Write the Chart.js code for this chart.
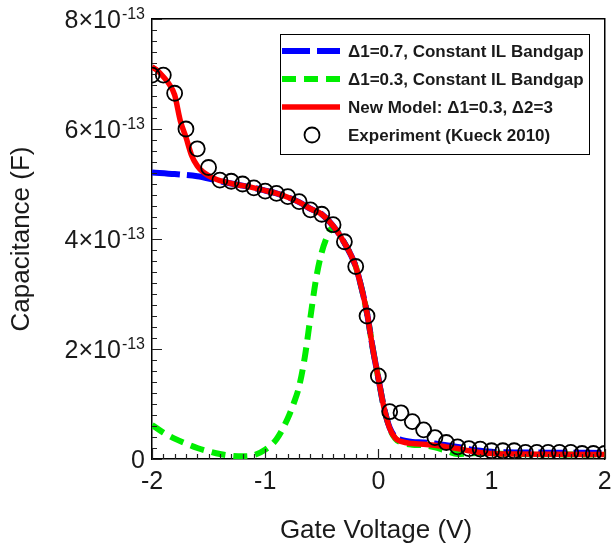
<!DOCTYPE html>
<html><head><meta charset="utf-8">
<script src="https://cdn.jsdelivr.net/npm/chart.js@4.4.0/dist/chart.umd.min.js"></script>
<style>html,body{margin:0;padding:0;background:#fff}canvas{display:block}</style>
</head><body>
<canvas id="c" width="614" height="546"></canvas>
<script>
// ---- data (capacitance in units of 1e-13 F) ----
const UNIT = 1e-13;
const xTicks = [-2, -1, 0, 1, 2];
const yTicks = [0, 2, 4, 6, 8];
const yTickMain = ['0', '2×10', '4×10', '6×10', '8×10'];
const yTickExp = ['', '-13', '-13', '-13', '-13'];
const xTitle = 'Gate Voltage (V)';
const yTitle = 'Capacitance (F)';
const legendLabels = ['Δ1=0.7, Constant IL Bandgap', 'Δ1=0.3, Constant IL Bandgap', 'New Model: Δ1=0.3, Δ2=3', 'Experiment (Kueck 2010)'];

const expV = [-2.0,-1.9,-1.8,-1.7,-1.6,-1.5,-1.4,-1.3,-1.2,-1.1,-1.0,-0.9,-0.8,-0.7,-0.6,-0.5,-0.4,-0.3,-0.2,-0.1,0.0,0.1,0.2,0.3,0.4,0.5,0.6,0.7,0.8,0.9,1.0,1.1,1.2,1.3,1.4,1.5,1.6,1.7,1.8,1.9,2.0];
const expC = [6.98,6.98,6.65,6.00,5.64,5.30,5.07,5.05,5.00,4.93,4.87,4.83,4.77,4.68,4.53,4.45,4.26,3.95,3.50,2.60,1.51,0.86,0.84,0.68,0.53,0.39,0.30,0.22,0.19,0.18,0.15,0.15,0.15,0.12,0.12,0.12,0.12,0.12,0.10,0.10,0.10];

const redV = [-2,-1.95,-1.9,-1.85,-1.8,-1.75,-1.7,-1.65,-1.6,-1.55,-1.5,-1.45,-1.4,-1.3,-1.2,-1.1,-1.0,-0.9,-0.8,-0.7,-0.6,-0.5,-0.4,-0.3,-0.2,-0.15,-0.1,-0.05,0,0.05,0.1,0.15,0.2,0.3,0.4,0.5,0.6,0.7,0.8,0.9,1.0,1.2,1.5,2.0];
const redC = [7.13,7.06,6.95,6.82,6.62,6.15,5.85,5.52,5.33,5.22,5.15,5.10,5.06,5.01,4.97,4.93,4.88,4.83,4.76,4.67,4.55,4.45,4.24,3.93,3.50,3.12,2.65,2.02,1.47,0.93,0.56,0.38,0.32,0.28,0.27,0.25,0.22,0.19,0.15,0.12,0.10,0.09,0.085,0.08];

const blueV = [-2,-1.8,-1.6,-1.5,-1.4,-1.3,-1.2,-1.1,-1.0,-0.9,-0.8,-0.7,-0.6,-0.5,-0.4,-0.3,-0.2,-0.15,-0.1,-0.05,0,0.05,0.1,0.15,0.2,0.3,0.4,0.5,0.6,0.7,0.8,0.9,1.0,1.2,1.5,2.0];
const blueC = [5.21,5.18,5.14,5.10,5.05,5.01,4.97,4.93,4.88,4.83,4.76,4.67,4.55,4.45,4.24,3.93,3.50,3.12,2.65,2.02,1.47,0.93,0.57,0.40,0.35,0.31,0.30,0.28,0.25,0.22,0.18,0.15,0.13,0.12,0.115,0.11];

const greenV = [-2,-1.9,-1.8,-1.7,-1.6,-1.5,-1.4,-1.3,-1.2,-1.1,-1.0,-0.9,-0.8,-0.75,-0.7,-0.65,-0.6,-0.55,-0.5,-0.45,-0.42,-0.4,-0.3,-0.2,-0.15,-0.1,-0.05,0,0.05,0.1,0.15,0.2,0.3,0.4,0.5,0.6,0.7,0.8,0.9,1.0,1.2,1.5,2.0];
const greenC = [0.62,0.48,0.37,0.28,0.20,0.14,0.09,0.06,0.05,0.07,0.17,0.36,0.74,1.00,1.32,1.85,2.58,3.28,3.76,4.06,4.18,4.20,3.93,3.50,3.12,2.65,2.02,1.47,0.93,0.56,0.37,0.30,0.26,0.25,0.21,0.15,0.09,0.10,0.11,0.10,0.09,0.085,0.08];

const pts = (xs, ys) => xs.map((x, i) => ({x: x, y: ys[i] * UNIT}));

const FONT = '"Liberation Sans", Arial, sans-serif';
const TXT = '#1a1a1a';

const deco = {
  id: 'deco',
  afterDraw(chart) {
    const ctx = chart.ctx, xs = chart.scales.x, ys = chart.scales.y, a = chart.chartArea;
    ctx.save();
    // inward tick marks
    ctx.strokeStyle = '#222'; ctx.lineWidth = 1.2;
    ctx.beginPath();
    for (let i = 0; i <= 40; i++) {
      const px = Math.round(xs.getPixelForValue(-2 + i * 0.1)) + 0.5;
      const len = (i % 10 === 0) ? 10 : 5;
      ctx.moveTo(px, a.bottom); ctx.lineTo(px, a.bottom - len);
    }
    for (let i = 0; i <= 40; i++) {
      const py = Math.round(ys.getPixelForValue(i * 0.2 * UNIT)) + 0.5;
      const len = (i % 10 === 0) ? 10 : 5;
      ctx.moveTo(a.left, py); ctx.lineTo(a.left + len, py);
    }
    ctx.stroke();

    // x tick labels
    ctx.fillStyle = TXT;
    ctx.font = '25px ' + FONT;
    ctx.textAlign = 'center'; ctx.textBaseline = 'alphabetic';
    xTicks.forEach(v => ctx.fillText(String(v), xs.getPixelForValue(v), a.bottom + 30));

    // y tick labels with superscript exponent
    const right = 145;
    yTicks.forEach((v, i) => {
      const py = ys.getPixelForValue(v * UNIT);
      ctx.textAlign = 'right';
      let w = 0;
      if (yTickExp[i]) {
        ctx.font = '16px ' + FONT;
        w = ctx.measureText(yTickExp[i]).width;
        ctx.fillText(yTickExp[i], right, py);
      }
      ctx.font = '25px ' + FONT;
      ctx.fillText(yTickMain[i], right - w - (w ? 1 : 0), py + 9);
    });

    // axis titles
    ctx.font = '26px ' + FONT;
    ctx.textAlign = 'center';
    ctx.fillText(xTitle, 376, 538);
    ctx.save();
    ctx.translate(29, (a.top + a.bottom) / 2);
    ctx.rotate(-Math.PI / 2);
    ctx.fillText(yTitle, 0, 0);
    ctx.restore();

    // legend
    const lx = 280.5, ly = 34.5, lw = 309, lh = 120;
    ctx.fillStyle = '#fff';
    ctx.fillRect(lx, ly, lw, lh);
    ctx.strokeStyle = '#000'; ctx.lineWidth = 1;
    ctx.strokeRect(lx, ly, lw, lh);
    const order = [2, 3, 1, 0]; // blue, green, red, experiment (dataset indices)
    order.forEach((di, k) => {
      const ds = chart.data.datasets[di];
      const cy = 51 + k * 28;
      ctx.save();
      if (ds.showLine === false) {
        ctx.beginPath();
        ctx.arc(312, cy, ds.pointRadius, 0, Math.PI * 2);
        ctx.strokeStyle = ds.pointBorderColor; ctx.lineWidth = ds.pointBorderWidth;
        ctx.stroke();
      } else {
        ctx.beginPath();
        ctx.setLineDash(ds.borderDash || []);
        ctx.strokeStyle = ds.borderColor; ctx.lineWidth = ds.borderWidth;
        ctx.moveTo(282, cy); ctx.lineTo(340, cy);
        ctx.stroke();
      }
      ctx.restore();
      ctx.fillStyle = TXT;
      ctx.font = 'bold 17px ' + FONT;
      ctx.textAlign = 'left';
      ctx.fillText(legendLabels[k], 348, cy + 6);
    });
    ctx.restore();
  }
};

const fit0w = s => { s.width = 0; };
const fit0h = s => { s.height = 0; };
const hiddenAxis = (pos, fit) => ({
  type: 'linear', position: pos, display: true,
  ticks: {display: false}, grid: {display: false, drawTicks: false},
  border: {display: true, color: '#000', width: 1.5}, afterFit: fit
});

new Chart(document.getElementById('c'), {
  type: 'line',
  data: {
    datasets: [
      { label: legendLabels[3], data: pts(expV, expC), showLine: false,
        pointRadius: 7.5, pointBorderWidth: 1.8, pointBorderColor: '#000',
        pointBackgroundColor: 'rgba(0,0,0,0)', pointStyle: 'circle', clip: 0 },
      { label: legendLabels[2], data: pts(redV, redC), borderColor: '#ff0000',
        borderWidth: 5.5, pointRadius: 0, tension: 0.4, cubicInterpolationMode: 'monotone', fill: false, clip: 0 },
      { label: legendLabels[0], data: pts(blueV, blueC), borderColor: '#0000ff',
        borderWidth: 6, borderDash: [28, 7], pointRadius: 0, cubicInterpolationMode: 'monotone', fill: false, clip: 0 },
      { label: legendLabels[1], data: pts(greenV, greenC), borderColor: '#00ee00',
        borderWidth: 6, borderDash: [14, 8], pointRadius: 0, cubicInterpolationMode: 'monotone', fill: false, clip: 0 }
    ]
  },
  options: {
    responsive: false, animation: false, devicePixelRatio: 1,
    layout: {padding: {left: 152, top: 19, right: 7, bottom: 87}},
    plugins: {legend: {display: false}, tooltip: {enabled: false}},
    scales: {
      x: Object.assign(hiddenAxis('bottom', fit0h), {min: -2, max: 2}),
      y: Object.assign(hiddenAxis('left', fit0w), {min: 0, max: 8 * UNIT}),
      x2: Object.assign(hiddenAxis('top', fit0h), {min: -2, max: 2}),
      y2: Object.assign(hiddenAxis('right', fit0w), {min: 0, max: 8}),
    }
  },
  plugins: [deco]
});
</script>
</body></html>
